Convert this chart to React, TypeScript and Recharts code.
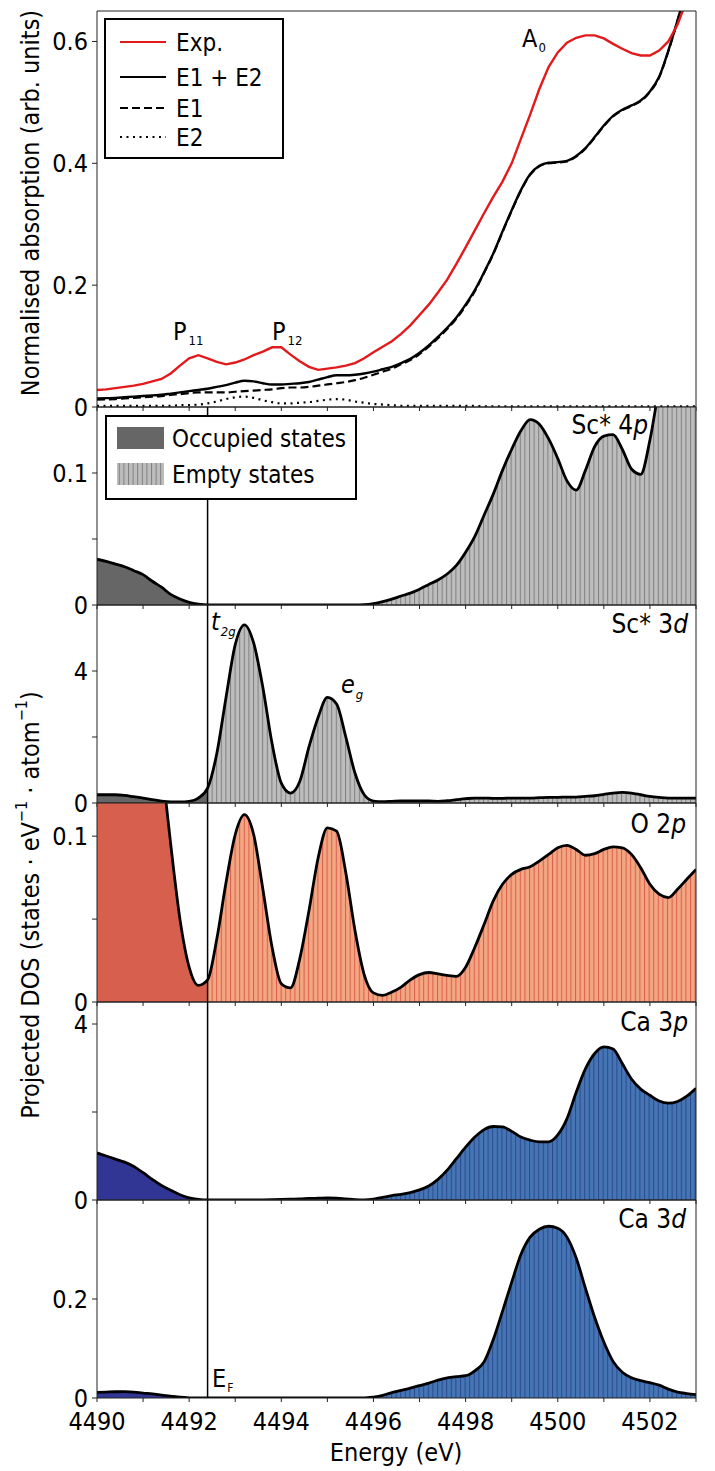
import React from "react";
import { ComposedChart, Line, Area, XAxis, YAxis, ReferenceLine, Legend } from "recharts";

const COND = "'DejaVu Sans Condensed', 'DejaVu Sans', sans-serif";
const RED = "#e31a1c";
const FERMI = 4492.4; // E_F marker (eV)

// energy grid (eV), 0.2 eV step
const energy = [
  4490.0, 4490.2, 4490.4, 4490.6, 4490.8, 4491.0, 4491.2, 4491.4, 4491.6, 4491.8,
  4492.0, 4492.2, 4492.4, 4492.6, 4492.8, 4493.0, 4493.2, 4493.4, 4493.6, 4493.8,
  4494.0, 4494.2, 4494.4, 4494.6, 4494.8, 4495.0, 4495.2, 4495.4, 4495.6, 4495.8,
  4496.0, 4496.2, 4496.4, 4496.6, 4496.8, 4497.0, 4497.2, 4497.4, 4497.6, 4497.8,
  4498.0, 4498.2, 4498.4, 4498.6, 4498.8, 4499.0, 4499.2, 4499.4, 4499.6, 4499.8,
  4500.0, 4500.2, 4500.4, 4500.6, 4500.8, 4501.0, 4501.2, 4501.4, 4501.6, 4501.8,
  4502.0, 4502.2, 4502.4, 4502.6, 4502.8, 4503.0,
];
const energyTicks = [4490, 4491, 4492, 4493, 4494, 4495, 4496, 4497, 4498, 4499, 4500, 4501, 4502, 4503];

// top panel: absorption
const expAbs = [
  0.028, 0.029, 0.031, 0.033, 0.035, 0.038, 0.042, 0.046, 0.055, 0.068,
  0.080, 0.085, 0.080, 0.074, 0.070, 0.073, 0.078, 0.085, 0.091, 0.098,
  0.098, 0.086, 0.075, 0.066, 0.061, 0.063, 0.065, 0.068, 0.072, 0.080,
  0.090, 0.099, 0.108, 0.120, 0.134, 0.151, 0.168, 0.188, 0.209, 0.235,
  0.262, 0.290, 0.318, 0.345, 0.370, 0.400, 0.440, 0.480, 0.522, 0.558,
  0.582, 0.598, 0.606, 0.610, 0.610, 0.605, 0.596, 0.588, 0.581, 0.577,
  0.577, 0.585, 0.600, 0.628, 0.668, 0.720,
];
const calcTotal = [
  0.014, 0.0145, 0.015, 0.016, 0.017, 0.018, 0.019, 0.020, 0.022, 0.024,
  0.026, 0.028, 0.030, 0.033, 0.036, 0.040, 0.043, 0.042, 0.039, 0.037,
  0.037, 0.038, 0.039, 0.041, 0.045, 0.049, 0.052, 0.052, 0.053, 0.055,
  0.058, 0.062, 0.066, 0.072, 0.079, 0.089, 0.101, 0.115, 0.130, 0.147,
  0.168, 0.192, 0.221, 0.252, 0.288, 0.323, 0.356, 0.382, 0.396, 0.401,
  0.402, 0.404, 0.412, 0.425, 0.443, 0.462, 0.478, 0.488, 0.495, 0.503,
  0.518, 0.542, 0.585, 0.635, 0.690, 0.760,
];
const calcE1 = [
  0.012, 0.0125, 0.013, 0.014, 0.015, 0.016, 0.017, 0.018, 0.020, 0.021,
  0.023, 0.024, 0.024, 0.024, 0.024, 0.025, 0.026, 0.027, 0.028, 0.029,
  0.031, 0.032, 0.032, 0.033, 0.035, 0.037, 0.039, 0.041, 0.044, 0.048,
  0.053, 0.058, 0.063, 0.070, 0.077, 0.087, 0.099, 0.113, 0.128, 0.145,
  0.166, 0.190, 0.220, 0.251, 0.287, 0.322, 0.355, 0.381, 0.395, 0.400,
  0.401, 0.403, 0.411, 0.424, 0.442, 0.461, 0.477, 0.487, 0.494, 0.502,
  0.517, 0.541, 0.584, 0.634, 0.689, 0.759,
];
const calcE2 = [
  0.002, 0.002, 0.002, 0.002, 0.002, 0.002, 0.002, 0.002, 0.002, 0.003,
  0.003, 0.004, 0.006, 0.009, 0.013, 0.016, 0.017, 0.015, 0.011, 0.008,
  0.006, 0.006, 0.007, 0.008, 0.010, 0.012, 0.013, 0.012, 0.009, 0.007,
  0.005, 0.004, 0.003, 0.002, 0.002, 0.002, 0.002, 0.002, 0.002, 0.002,
  0.002, 0.002, 0.001, 0.001, 0.001, 0.001, 0.001, 0.001, 0.001, 0.001,
  0.001, 0.001, 0.001, 0.001, 0.001, 0.001, 0.001, 0.001, 0.001, 0.001,
  0.001, 0.001, 0.001, 0.001, 0.001, 0.001,
];

// projected DOS
const sc4p = [
  0.0347, 0.033, 0.031, 0.029, 0.026, 0.023, 0.018, 0.0135, 0.008, 0.0045,
  0.002, 0.0006, 0, 0, 0, 0, 0, 0, 0, 0,
  0, 0, 0, 0, 0, 0, 0, 0, 0, 0.0002,
  0.001, 0.0025, 0.0045, 0.0068, 0.009, 0.012, 0.0155, 0.019, 0.0235, 0.030,
  0.040, 0.052, 0.068, 0.084, 0.102, 0.118, 0.132, 0.1405, 0.137, 0.126,
  0.111, 0.094, 0.087, 0.102, 0.120, 0.128, 0.129, 0.118, 0.103, 0.099,
  0.125, 0.165, 0.200, 0.230, 0.250, 0.260,
];
const sc3d = [
  0.25, 0.25, 0.25, 0.23, 0.19, 0.15, 0.10, 0.06, 0.035, 0.03,
  0.05, 0.15, 0.45, 1.5, 3.2, 4.8, 5.4, 4.85, 3.5, 1.8,
  0.6, 0.3, 0.65, 1.7, 2.6, 3.2, 3.0, 2.0, 0.9, 0.25,
  0.06, 0.04, 0.05, 0.06, 0.06, 0.06, 0.06, 0.05, 0.07, 0.10,
  0.13, 0.15, 0.15, 0.14, 0.14, 0.15, 0.15, 0.15, 0.16, 0.17,
  0.17, 0.18, 0.18, 0.20, 0.22, 0.26, 0.30, 0.32, 0.30, 0.25,
  0.20, 0.17, 0.15, 0.15, 0.15, 0.15,
];
const o2p = [
  0.2, 0.2, 0.2, 0.2, 0.2, 0.2, 0.2, 0.145, 0.095, 0.050,
  0.021, 0.010, 0.0133, 0.038, 0.072, 0.101, 0.113, 0.101, 0.068, 0.033,
  0.011, 0.0085, 0.026, 0.055, 0.087, 0.105, 0.103, 0.078, 0.043, 0.0164,
  0.0055, 0.004, 0.006, 0.009, 0.0133, 0.0165, 0.0178, 0.017, 0.016, 0.0154,
  0.021, 0.033, 0.0467, 0.061, 0.071, 0.077, 0.080, 0.0815, 0.085, 0.089,
  0.093, 0.0945, 0.092, 0.0885, 0.0895, 0.092, 0.0935, 0.093, 0.089, 0.081,
  0.071, 0.065, 0.063, 0.068, 0.074, 0.080,
];
const ca3p = [
  1.07, 1.0, 0.93, 0.86, 0.76, 0.62, 0.47, 0.33, 0.22, 0.12,
  0.05, 0.015, 0, 0, 0, 0, 0, 0, 0.005, 0.01,
  0.015, 0.02, 0.025, 0.035, 0.04, 0.045, 0.04, 0.025, 0.01, 0.005,
  0.02, 0.06, 0.10, 0.13, 0.17, 0.23, 0.32, 0.47, 0.68, 0.94,
  1.20, 1.43, 1.60, 1.67, 1.66, 1.56, 1.43, 1.36, 1.32, 1.32,
  1.48, 1.85, 2.45, 2.98, 3.33, 3.48, 3.43, 3.10, 2.75, 2.52,
  2.38, 2.25, 2.20, 2.24, 2.36, 2.54,
];
const ca3d = [
  0.0114, 0.012, 0.0126, 0.0128, 0.012, 0.010, 0.0085, 0.006, 0.0037, 0.0015,
  0.0003, 0, 0, 0, 0, 0, 0, 0, 0, 0,
  0, 0, 0, 0, 0, 0, 0, 0, 0, 0,
  0.002, 0.0055, 0.011, 0.0155, 0.020, 0.025, 0.030, 0.036, 0.0405, 0.043,
  0.045, 0.055, 0.073, 0.118, 0.175, 0.234, 0.290, 0.325, 0.341, 0.347,
  0.343, 0.325, 0.283, 0.222, 0.163, 0.113, 0.074, 0.052, 0.041, 0.035,
  0.031, 0.026, 0.018, 0.012, 0.009, 0.0067,
];

const absLegendNames = ["Exp.", "E1 + E2", "E1", "E2"];
const dosLegendNames = ["Occupied states", "Empty states"];

const PAD = 16; // room around each plot so tick labels are not clipped
const AXIS = "#222";

const xAxisProps = (showLabels: boolean) => ({
  dataKey: "e",
  type: "number" as const,
  domain: [4490, 4503],
  ticks: energyTicks,
  interval: 0 as const,
  allowDataOverflow: true,
  tickSize: 4,
  tickMargin: 10,
  axisLine: { stroke: AXIS },
  tickLine: { stroke: AXIS },
  tick: { fill: "#000", fontSize: 25 },
  tickFormatter: (v: number) => (showLabels && v % 2 === 0 ? String(v) : ""),
});

function AbsPanel() {
  const top = 11;
  const plotH = 396;
  const chartTop = top - PAD - 1;
  const rows = energy.map((e, i) => ({ e, exp: expAbs[i], tot: calcTotal[i], e1: calcE1[i], e2: calcE2[i] }));
  const legendStyles = [
    { stroke: RED, dash: undefined },
    { stroke: "#000", dash: undefined },
    { stroke: "#000", dash: "8 4" },
    { stroke: "#000", dash: "2 4.5" },
  ];
  return (
    <div style={{ position: "absolute", left: 0, top: chartTop }}>
      <ComposedChart width={715} height={PAD + 1 + plotH + 1 + PAD} data={rows} margin={{ top: PAD, right: 18, bottom: PAD, left: 0 }}>
        <XAxis {...xAxisProps(false)} height={1} />
        <XAxis xAxisId="top" orientation="top" dataKey="e" type="number" domain={[4490, 4503]} height={1} tick={false} tickLine={false} axisLine={{ stroke: AXIS }} />
        <YAxis type="number" domain={[0, 0.65]} allowDataOverflow ticks={[0, 0.2, 0.4, 0.6]} interval={0} width={97} tickSize={5} tickMargin={4}
          axisLine={{ stroke: AXIS }} tickLine={{ stroke: AXIS }} tick={{ fill: "#000", fontSize: 25 }}
          tickFormatter={(v: number) => (v === 0 ? "0" : v.toFixed(1))} />
        <YAxis yAxisId="r" orientation="right" type="number" domain={[0, 0.65]} allowDataOverflow ticks={[0, 0.2, 0.4, 0.6]} width={1} tickSize={5} tick={false}
          axisLine={{ stroke: AXIS }} tickLine={{ stroke: AXIS }} />
        <Line dataKey="e2" type="monotone" stroke="#000" strokeWidth={2.2} strokeDasharray="2 4.5" dot={false} activeDot={false} isAnimationActive={false} />
        <Line dataKey="e1" type="monotone" stroke="#000" strokeWidth={2.2} strokeDasharray="8 4" dot={false} activeDot={false} isAnimationActive={false} />
        <Line dataKey="tot" type="monotone" stroke="#000" strokeWidth={2.4} dot={false} activeDot={false} isAnimationActive={false} />
        <Line dataKey="exp" type="linear" stroke={RED} strokeWidth={2.4} dot={false} activeDot={false} isAnimationActive={false} />
        <Legend layout="vertical" align="center" verticalAlign="middle"
          wrapperStyle={{ left: 104, top: 18 - chartTop, width: 180, height: 141 }}
          content={() => (
            <svg width={180} height={141} style={{ display: "block" }}>
              <rect x={1} y={1} width={178} height={139} fill="#fff" stroke="#000" strokeWidth={2} />
              {absLegendNames.map((name, i) => {
                const y = [24, 59, 90, 119][i];
                return (
                  <g key={name}>
                    <line x1={16} x2={62} y1={y} y2={y} stroke={legendStyles[i].stroke} strokeWidth={2.2} strokeDasharray={legendStyles[i].dash} />
                    <text x={72} y={y + 9} fontSize={24} fill="#000">{name}</text>
                  </g>
                );
              })}
            </svg>
          )} />
      </ComposedChart>
    </div>
  );
}

type DosProps = {
  pid: string;
  values: number[];
  top: number;
  plotH: number;
  yMax: number;
  yTicks: number[];
  yLabels: number[];
  occColor: string;
  empColor: string;
  hatchColor: string;
  showX?: boolean;
  withLegend?: boolean;
};

function hatchPattern(id: string, bg: string, fg: string) {
  return (
    <pattern id={id} patternUnits="userSpaceOnUse" width={4.6} height={10}>
      <rect width={4.6} height={10} fill={bg} />
      <line x1={0.5} y1={0} x2={0.5} y2={10} stroke={fg} strokeWidth={1} />
    </pattern>
  );
}

function DosPanel(p: DosProps) {
  const rows = energy.map((e, i) => ({
    e,
    y: p.values[i],
    occ: e <= FERMI + 1e-6 ? p.values[i] : null,
    emp: e >= FERMI - 1e-6 ? p.values[i] : null,
  }));
  const xH = p.showX ? 40 : 1;
  const chartTop = p.top - PAD - 1;
  const hatchId = `hatch-${p.pid}`;
  return (
    <div style={{ position: "absolute", left: 0, top: chartTop }}>
      <ComposedChart width={715} height={PAD + 1 + p.plotH + xH + PAD} data={rows} margin={{ top: PAD, right: 18, bottom: PAD, left: 0 }}>
        <defs>{hatchPattern(hatchId, p.empColor, p.hatchColor)}</defs>
        <XAxis {...xAxisProps(!!p.showX)} height={xH} />
        <XAxis xAxisId="top" orientation="top" dataKey="e" type="number" domain={[4490, 4503]} height={1} tick={false} tickLine={false} axisLine={{ stroke: AXIS }} />
        <YAxis type="number" domain={[0, p.yMax]} allowDataOverflow ticks={p.yTicks} interval={0} width={97} tickSize={5} tickMargin={4}
          axisLine={{ stroke: AXIS }} tickLine={{ stroke: AXIS }} tick={{ fill: "#000", fontSize: 25 }}
          tickFormatter={(v: number) => (p.yLabels.includes(v) ? String(v) : "")} />
        <YAxis yAxisId="r" orientation="right" type="number" domain={[0, p.yMax]} allowDataOverflow ticks={p.yTicks} width={1} tickSize={5} tick={false}
          axisLine={{ stroke: AXIS }} tickLine={{ stroke: AXIS }} />
        <Area dataKey="occ" type="monotone" fill={p.occColor} fillOpacity={1} stroke="none" dot={false} activeDot={false} isAnimationActive={false} />
        <Area dataKey="emp" type="monotone" fill={`url(#${hatchId})`} fillOpacity={1} stroke="none" dot={false} activeDot={false} isAnimationActive={false} />
        <Line dataKey="y" type="monotone" stroke="#000" strokeWidth={2.8} dot={false} activeDot={false} isAnimationActive={false} />
        <ReferenceLine x={FERMI} stroke="#000" strokeWidth={1.5} />
        {p.withLegend && (
          <Legend layout="vertical" align="center" verticalAlign="middle"
            wrapperStyle={{ left: 105, top: 415 - chartTop, width: 252, height: 85 }}
            content={() => (
              <svg width={252} height={85} style={{ display: "block" }}>
                <defs>{hatchPattern("hatch-legend", p.empColor, p.hatchColor)}</defs>
                <rect x={1} y={1} width={250} height={83} fill="#fff" stroke="#000" strokeWidth={2} />
                <rect x={12} y={12} width={47} height={22} fill={p.occColor} />
                <rect x={12} y={48} width={47} height={22} fill="url(#hatch-legend)" />
                <text x={67} y={32} fontSize={24} fill="#000">{dosLegendNames[0]}</text>
                <text x={67} y={68} fontSize={24} fill="#000">{dosLegendNames[1]}</text>
              </svg>
            )} />
        )}
      </ComposedChart>
    </div>
  );
}

function Sub({ children, size = 13, dy = 5, dx = 1 }: { children: React.ReactNode; size?: number; dy?: number; dx?: number }) {
  return <tspan fontSize={size} dy={dy} dx={dx}>{children}</tspan>;
}

export default function App() {
  return (
    <div style={{ position: "absolute", left: 0, top: 0, width: 715, height: 1471, background: "#fff", fontFamily: COND, fontStretch: "condensed" }}>
      <AbsPanel />
      <DosPanel pid="sc4p" values={sc4p} top={407} plotH={198} yMax={0.15} yTicks={[0, 0.05, 0.1]} yLabels={[0, 0.1]}
        occColor="#666666" empColor="#bdbdbd" hatchColor="#7f7f7f" withLegend />
      <DosPanel pid="sc3d" values={sc3d} top={605} plotH={198} yMax={6} yTicks={[0, 2, 4]} yLabels={[0, 4]}
        occColor="#666666" empColor="#bdbdbd" hatchColor="#7f7f7f" />
      <DosPanel pid="o2p" values={o2p} top={803} plotH={199} yMax={0.12} yTicks={[0, 0.05, 0.1]} yLabels={[0, 0.1]}
        occColor="#d6604d" empColor="#f4a582" hatchColor="#d6604d" />
      <DosPanel pid="ca3p" values={ca3p} top={1002} plotH={198} yMax={4.5} yTicks={[0, 2, 4]} yLabels={[0, 4]}
        occColor="#313695" empColor="#4575b4" hatchColor="#2b4a8c" />
      <DosPanel pid="ca3d" values={ca3d} top={1200} plotH={198} yMax={0.4} yTicks={[0, 0.2]} yLabels={[0, 0.2]}
        occColor="#313695" empColor="#4575b4" hatchColor="#2b4a8c" showX />
      <svg width={715} height={1471} style={{ position: "absolute", left: 0, top: 0, pointerEvents: "none" }} fill="#000">
        <text transform="translate(30,203) rotate(-90)" textAnchor="middle" dominantBaseline="central" fontSize={25}>
          Normalised absorption (arb. units)
        </text>
        <text transform="translate(30,905) rotate(-90)" textAnchor="middle" dominantBaseline="central" fontSize={25}>
          Projected DOS (states · eV<tspan fontSize={16} dy={-9}>−1</tspan><tspan dy={9}> · atom</tspan><tspan fontSize={16} dy={-9}>−1</tspan><tspan dy={9}>)</tspan>
        </text>
        <text x={396} y={1461} textAnchor="middle" fontSize={25}>Energy (eV)</text>

        <text x={173} y={340} fontSize={25}>P<Sub dx={2}>11</Sub></text>
        <text x={272} y={340} fontSize={25}>P<Sub dx={2}>12</Sub></text>
        <text x={522} y={47} fontSize={25}>A<Sub>0</Sub></text>
        <text x={211} y={630} fontSize={25} fontStyle="italic">t<Sub dy={6}>2g</Sub></text>
        <text x={341} y={693} fontSize={25} fontStyle="italic">e<Sub dy={6}>g</Sub></text>
        <text x={212} y={1387} fontSize={25}>E<Sub size={12}>F</Sub></text>

        <text x={648} y={434} textAnchor="end" fontSize={26}>Sc* 4<tspan fontStyle="italic">p</tspan></text>
        <text x={688} y={633} textAnchor="end" fontSize={26}>Sc* 3<tspan fontStyle="italic">d</tspan></text>
        <text x={686} y={833} textAnchor="end" fontSize={26}>O 2<tspan fontStyle="italic">p</tspan></text>
        <text x={688} y={1031} textAnchor="end" fontSize={26}>Ca 3<tspan fontStyle="italic">p</tspan></text>
        <text x={686} y={1228} textAnchor="end" fontSize={26}>Ca 3<tspan fontStyle="italic">d</tspan></text>
      </svg>
    </div>
  );
}
